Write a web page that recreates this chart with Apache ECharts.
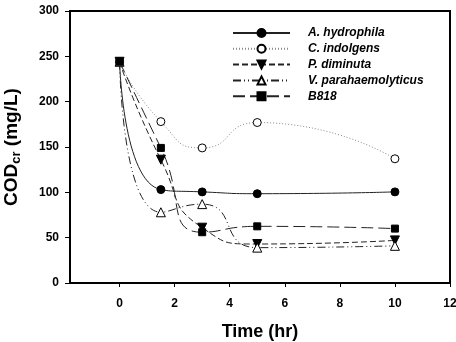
<!DOCTYPE html>
<html><head><meta charset="utf-8">
<script src="https://cdn.jsdelivr.net/npm/echarts@6/dist/echarts.min.js"></script>
<style>html,body{margin:0;padding:0;background:#fff}#c{width:456px;height:342px}</style>
</head><body><div id="c"></div>
<script>
const timeHr = [0, 1.5, 3, 5, 10];
const xTicks = [0, 2, 4, 6, 8, 10, 12];
const seriesNames = ['A. hydrophila', 'C. indolgens', 'P. diminuta', 'V. parahaemolyticus', 'B818'];
const aHydrophila = [244, 103, 100.5, 98.5, 100.5];
const cIndolgens = [244, 178, 149, 177, 137];
const pDiminuta = [244, 136, 61, 43, 47];
const vParahaemolyticus = [244, 78, 87, 39, 41];
const b818 = [244, 149, 56, 62.5, 60];

const values = [aHydrophila, cIndolgens, pDiminuta, vParahaemolyticus, b818];
const styles = [
  {symbol:'circle', size:8, fill:'#000', dash:'solid', color:'#222'},
  {symbol:'circle', size:8, fill:'#fff', dash:[1,2], color:'#888'},
  {symbol:'triangle', size:9, fill:'#000', dash:[6,3], color:'#222', rotate:180},
  {symbol:'triangle', size:9, fill:'#fff', dash:[8,3,1,3,1,3], color:'#222'},
  {symbol:'rect', size:7, fill:'#000', dash:[12,5], color:'#222'}
];
const chart = echarts.init(document.getElementById('c'));
const font = 'Liberation Sans, Arial, sans-serif';
chart.setOption({
  animation:false,
  grid:{left:70, top:11, right:6, bottom:59, show:true, borderColor:'#000', borderWidth:2, outerBoundsMode:'none', containLabel:false},
  legend:{
    orient:'vertical', left:227, top:22, itemWidth:57, itemHeight:10, itemGap:3.8,
    data: seriesNames,
    textStyle:{fontFamily:font, fontSize:12, fontWeight:'bold', fontStyle:'italic', color:'#000', padding:[0,0,0,13]}
  },
  xAxis:{
    type:'value', min:-1.8, max:12,
    name:'Time (hr)', nameLocation:'middle', nameGap:40,
    nameTextStyle:{fontFamily:font, fontSize:18, fontWeight:'bold', color:'#000'},
    axisLine:{show:true, onZero:false, lineStyle:{color:'#000', width:2}},
    axisTick:{show:true, inside:false, length:4, customValues:xTicks, lineStyle:{color:'#000'}},
    axisLabel:{customValues:xTicks, margin:15, fontFamily:font, fontSize:12, fontWeight:'bold', color:'#000'},
    splitLine:{show:false}
  },
  yAxis:{
    type:'value', min:0, max:300, interval:50,
    name:'{a|COD}{b|cr}{a| (mg/L)}', nameLocation:'middle', nameGap:47,
    nameTextStyle:{color:'#000', rich:{
      a:{fontFamily:font, fontSize:19, fontWeight:'bold', color:'#000'},
      b:{fontFamily:font, fontSize:13, fontWeight:'bold', color:'#000', padding:[9,0,0,0]}
    }},
    axisLine:{show:true, onZero:false, lineStyle:{color:'#000', width:2}},
    axisTick:{show:true, inside:false, length:5, lineStyle:{color:'#000'}},
    axisLabel:{margin:11, fontFamily:font, fontSize:12, fontWeight:'bold', color:'#000'},
    splitLine:{show:false}
  },
  series: seriesNames.map((n,i)=>({
    name:n, type:'line', smooth:0.6,
    data: timeHr.map((t,j)=>[t, values[i][j]]),
    symbol:styles[i].symbol, symbolSize:styles[i].size, symbolRotate:styles[i].rotate||0,
    showAllSymbol:true,
    lineStyle:{color:styles[i].color, width:1, type:styles[i].dash},
    itemStyle:{color:styles[i].fill, borderColor:'#000', borderWidth:1}
  }))
});
</script></body></html>
